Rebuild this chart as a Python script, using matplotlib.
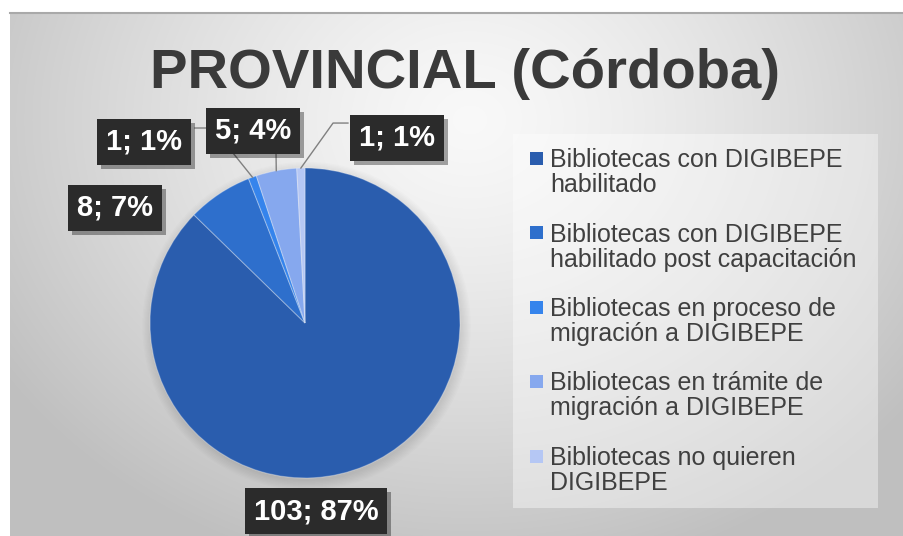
import numpy as np
import matplotlib
matplotlib.use('Agg')
import matplotlib.pyplot as plt
import matplotlib.patheffects as pe
from matplotlib.patches import Rectangle, Circle

plt.rcParams['font.family'] = ['Liberation Sans', 'DejaVu Sans']

# data
title = "PROVINCIAL (Córdoba)"
categories = [
    "Bibliotecas con DIGIBEPE\nhabilitado",
    "Bibliotecas con DIGIBEPE\nhabilitado post capacitación",
    "Bibliotecas en proceso de\nmigración a DIGIBEPE",
    "Bibliotecas en trámite de\nmigración a DIGIBEPE",
    "Bibliotecas no quieren\nDIGIBEPE",
]
values = [103, 8, 1, 5, 1]
colors = ['#2A5DAE', '#2E6FCC', '#3584EC', '#86A8EE', '#B5C7F4']

# layout: label box centres relative to the pie centre, in pie radii
label_pos = [(0.07, -1.213), (-1.226, 0.742), (-1.039, 1.168),
             (-0.335, 1.239), (0.594, 1.194)]
# leader line points after the wedge edge
leaders = [None, None,
           [(-0.594, 1.258), (-0.71, 1.258)],
           [(-0.187, 1.097)],
           [(0.181, 1.29), (0.277, 1.29)]]

W, H = 904, 536
fig = plt.figure(figsize=(W / 100, H / 100), dpi=100, facecolor='white')

# background axes in pixel coordinates
bg = fig.add_axes([0, 0, 1, 1])
xs = np.arange(10, W) + 0.5
ys = np.arange(12, H) + 0.5
X, Y = np.meshgrid(xs, ys)
d = np.hypot(X - 470, (Y - 120) * 1.2) / 560
t = np.clip(d, 0, 1) ** 1.3
c = 0.975 - t * (0.975 - 0.75)
bg.imshow(np.dstack([c, c, c]), extent=(10, W, H, 12), interpolation='bilinear', aspect='auto')
bg.set_xlim(0, W)
bg.set_ylim(H, 0)
bg.axis('off')
bg.plot([10, W], [12.5, 12.5], color='#a9a9a9', lw=1.5)

bg.text(465, 88, title, ha='center', va='baseline', fontsize=40.5,
        fontweight='bold', color='#3a3a3a')

# legend, drawn by hand so the swatch sits on the first line
bg.add_patch(Rectangle((513, 134), 365, 374, facecolor='white', alpha=0.4, edgecolor='none'))
for i, (lab, col) in enumerate(zip(categories, colors)):
    base = 167 + 74.5 * i
    bg.add_patch(Rectangle((530, base - 15.5), 13, 13, facecolor=col, edgecolor='none'))
    for j, line in enumerate(lab.split('\n')):
        bg.text(550, base + 25 * j, line, fontsize=18, color='#404040',
                ha='left', va='baseline')

# pie
cx, cy, r = 305, 323, 155
ax = fig.add_axes([(cx - r) / W, (H - cy - r) / H, 2 * r / W, 2 * r / H])
# soft shadow behind the pie
for rr in np.linspace(1.0, 1.06, 8):
    ax.add_patch(Circle((0.01, -0.02), rr, color='black', alpha=0.012, zorder=0,
                        clip_on=False, linewidth=0))
wedges, _ = ax.pie(values, colors=colors, startangle=90, counterclock=False, radius=1,
                   wedgeprops=dict(edgecolor=(1, 1, 1, 0.3), linewidth=0.8))
ax.set_xlim(-1, 1)
ax.set_ylim(-1, 1)
ax.axis('off')

total = sum(values)
for w, v, (lx, ly), pts in zip(wedges, values, label_pos, leaders):
    if pts:
        th = np.deg2rad((w.theta1 + w.theta2) / 2)
        lxs = [np.cos(th)] + [p[0] for p in pts]
        lys = [np.sin(th)] + [p[1] for p in pts]
        ax.plot(lxs, lys, color='#808080', lw=1, clip_on=False, zorder=3)
    txt = ax.text(lx, ly, f"{v}; {round(100 * v / total)}%", ha='center', va='center',
                  fontsize=21, fontweight='bold', color='white', zorder=5, clip_on=False,
                  bbox=dict(boxstyle='square,pad=0.3', facecolor='#2b2b2b', edgecolor='none'))
    txt.get_bbox_patch().set_path_effects([
        pe.SimplePatchShadow(offset=(3, -3), shadow_rgbFace='black', alpha=0.35),
        pe.Normal()])

fig.savefig('out.png', dpi=100)
